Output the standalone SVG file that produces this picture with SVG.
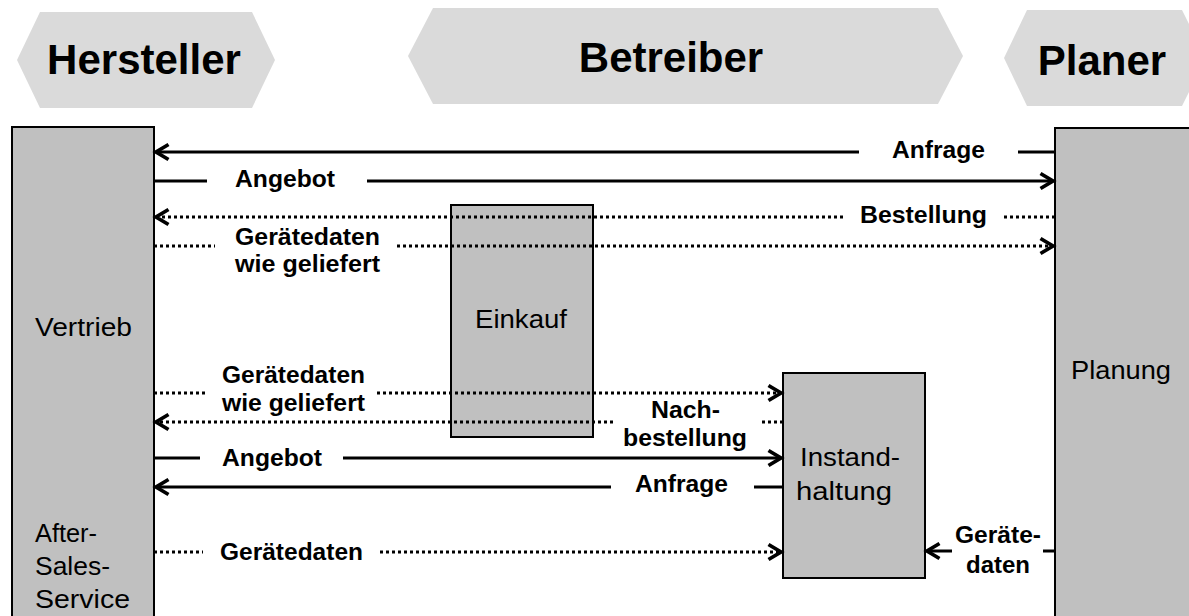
<svg xmlns="http://www.w3.org/2000/svg" width="1189" height="616" viewBox="0 0 1189 616">
<style>
.hdr{fill:#dadada;stroke:none}
.hdrt{font-family:"Liberation Sans",Arial,sans-serif;font-weight:bold;font-size:42px;fill:#000;text-anchor:middle}
.box{fill:#c0c0c0;stroke:#000;stroke-width:2}
.bt{font-family:"Liberation Sans",Arial,sans-serif;font-size:25px;fill:#000}
.lbl{font-family:"Liberation Sans",Arial,sans-serif;font-weight:bold;font-size:24px;fill:#000}
.solid{stroke:#000;stroke-width:3;fill:none}
.dot{stroke:#000;stroke-width:3;fill:none;stroke-dasharray:3 3}
</style>
<defs>
<marker id="ah" markerUnits="userSpaceOnUse" markerWidth="20" markerHeight="20" viewBox="-12 -8 14 16" refX="0" refY="0" orient="auto" overflow="visible">
<path d="M -10 -6 L 0 0 L -10 6" fill="none" stroke="#000" stroke-width="3" stroke-dasharray="none"/>
</marker>
</defs>
<rect width="1189" height="616" fill="#fff"/>
<g id="hersteller-header">
<polygon class="hdr" points="17,60 40,12 252,12 275,60 252,108 40,108"/>
<text class="hdrt" x="144" y="74">Hersteller</text>
</g>
<g id="betreiber-header">
<polygon class="hdr" points="408,56 433,8 938,8 963,56 938,104 433,104"/>
<text class="hdrt" x="671" y="72">Betreiber</text>
</g>
<g id="planer-header">
<polygon class="hdr" points="1004,58 1027,10 1182,10 1206,58 1182,106 1027,106"/>
<text class="hdrt" x="1102" y="75">Planer</text>
</g>
<g id="vertrieb">
<rect class="box" x="12" y="127" width="142" height="500"/>
<text class="bt" x="35" y="336" textLength="97" lengthAdjust="spacingAndGlyphs">Vertrieb</text>
<text class="bt" x="35" y="542" textLength="62" lengthAdjust="spacingAndGlyphs">After-</text>
<text class="bt" x="35" y="575" textLength="75" lengthAdjust="spacingAndGlyphs">Sales-</text>
<text class="bt" x="35" y="608" textLength="95" lengthAdjust="spacingAndGlyphs">Service</text>
</g>
<g id="planung">
<rect class="box" x="1055" y="128" width="150" height="500"/>
<text class="bt" x="1071" y="379" textLength="100" lengthAdjust="spacingAndGlyphs">Planung</text>
</g>
<g id="einkauf">
<rect class="box" x="451" y="205" width="142" height="232"/>
</g>
<g id="instandhaltung">
<rect class="box" x="783" y="373" width="142" height="205"/>
<text class="bt" x="800" y="466" textLength="100" lengthAdjust="spacingAndGlyphs">Instand-</text>
<text class="bt" x="796" y="500" textLength="96" lengthAdjust="spacingAndGlyphs">haltung</text>
</g>
<g id="connectors">
<!-- Anfrage top -->
<line class="solid" x1="1055" y1="152" x2="1018" y2="152"/>
<line class="solid" x1="859" y1="152" x2="156" y2="152" marker-end="url(#ah)"/>
<text class="lbl" x="892" y="158" textLength="93" lengthAdjust="spacingAndGlyphs">Anfrage</text>
<!-- Angebot top -->
<line class="solid" x1="154" y1="181" x2="207" y2="181"/>
<line class="solid" x1="367" y1="181" x2="1053" y2="181" marker-end="url(#ah)"/>
<text class="lbl" x="235" y="187" textLength="100" lengthAdjust="spacingAndGlyphs">Angebot</text>
<!-- Bestellung -->
<line class="dot" x1="1055" y1="217" x2="1003" y2="217"/>
<line class="dot" x1="843" y1="217" x2="156" y2="217" marker-end="url(#ah)"/>
<text class="lbl" x="860" y="223" textLength="127" lengthAdjust="spacingAndGlyphs">Bestellung</text>
<!-- Geraetedaten wie geliefert top -->
<line class="dot" x1="154" y1="246" x2="215" y2="246"/>
<line class="dot" x1="397" y1="246" x2="1053" y2="246" marker-end="url(#ah)"/>
<text class="lbl" x="235" y="245" textLength="145" lengthAdjust="spacingAndGlyphs">Gerätedaten</text>
<text class="lbl" x="235" y="272" textLength="145" lengthAdjust="spacingAndGlyphs">wie geliefert</text>
<!-- Geraetedaten wie geliefert bottom -->
<line class="dot" x1="154" y1="393" x2="205" y2="393"/>
<line class="dot" x1="377" y1="393" x2="781" y2="393" marker-end="url(#ah)"/>
<text class="lbl" x="222" y="383" textLength="143" lengthAdjust="spacingAndGlyphs">Gerätedaten</text>
<text class="lbl" x="222" y="411" textLength="143" lengthAdjust="spacingAndGlyphs">wie geliefert</text>
<!-- Nachbestellung -->
<line class="dot" x1="783" y1="422" x2="760" y2="422"/>
<line class="dot" x1="613" y1="422" x2="156" y2="422" marker-end="url(#ah)"/>
<text class="lbl" x="651" y="418" textLength="69" lengthAdjust="spacingAndGlyphs">Nach-</text>
<text class="lbl" x="623" y="446" textLength="124" lengthAdjust="spacingAndGlyphs">bestellung</text>
<!-- Angebot bottom -->
<line class="solid" x1="154" y1="458" x2="200" y2="458"/>
<line class="solid" x1="343" y1="458" x2="781" y2="458" marker-end="url(#ah)"/>
<text class="lbl" x="222" y="466" textLength="100" lengthAdjust="spacingAndGlyphs">Angebot</text>
<!-- Anfrage bottom -->
<line class="solid" x1="783" y1="487" x2="754" y2="487"/>
<line class="solid" x1="611" y1="487" x2="156" y2="487" marker-end="url(#ah)"/>
<text class="lbl" x="635" y="492" textLength="93" lengthAdjust="spacingAndGlyphs">Anfrage</text>
<!-- Geraetedaten bottom -->
<line class="dot" x1="154" y1="552" x2="203" y2="552"/>
<line class="dot" x1="380" y1="552" x2="781" y2="552" marker-end="url(#ah)"/>
<text class="lbl" x="220" y="560" textLength="143" lengthAdjust="spacingAndGlyphs">Gerätedaten</text>
<!-- Geraete-daten from Planung -->
<line class="solid" x1="1055" y1="551" x2="1043" y2="551"/>
<line class="solid" x1="952" y1="551" x2="927" y2="551" marker-end="url(#ah)"/>
<text class="lbl" x="955" y="543" textLength="86" lengthAdjust="spacingAndGlyphs">Geräte-</text>
<text class="lbl" x="966" y="573" textLength="64" lengthAdjust="spacingAndGlyphs">daten</text>
</g>
<g id="einkauf-label">
<text class="bt" x="475" y="328" textLength="92" lengthAdjust="spacingAndGlyphs">Einkauf</text>
</g>
</svg>
